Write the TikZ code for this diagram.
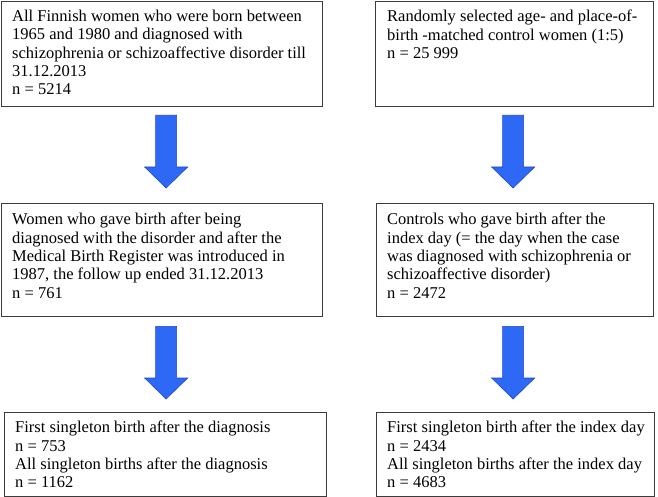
\documentclass[tikz,border=0pt]{standalone}
\usepackage{fontspec}
\setmainfont{Liberation Serif}
\usetikzlibrary{calc}

\definecolor{arrowfill}{RGB}{45,105,245}
\definecolor{arrowline}{RGB}{30,70,200}
\definecolor{boxline}{RGB}{60,60,60}

\tikzset{
  flowbox/.style={draw=boxline, line width=1.3pt, anchor=north west, inner sep=0pt},
  flowtext/.style={anchor=north west, inner sep=0pt, align=left,
    font=\fontsize{16.5}{18.3}\selectfont},
  bluearrow/.style={fill=arrowfill, draw=arrowline, line width=0.6pt,
    to path={let \p1=(\tikztostart), \p2=(\tikztotarget) in
      (\x1-10.5pt,\y1) -- (\x1+10.5pt,\y1) -- (\x1+10.5pt,\y2+21pt)
      -- (\x1+21.5pt,\y2+21pt) -- (\x1,\y2) -- (\x1-21.5pt,\y2+21pt)
      -- (\x1-10.5pt,\y2+21pt) -- cycle}}
}

\begin{document}
\begin{tikzpicture}[x=1pt, y=-1pt]
    \useasboundingbox (0,0) rectangle (658,497);

    % boxes
    \node[flowbox, minimum width=321pt, minimum height=105pt] (b1) at (1,1) {};
    \node[flowbox, minimum width=278pt, minimum height=105pt] (b2) at (375,1) {};
    \node[flowbox, minimum width=321pt, minimum height=113pt] (b3) at (1,203) {};
    \node[flowbox, minimum width=277pt, minimum height=113pt] (b4) at (376,203) {};
    \node[flowbox, minimum width=322pt, minimum height=84pt] (b5) at (4,412) {};
    \node[flowbox, minimum width=278pt, minimum height=84pt] (b6) at (376,412) {};

    % texts
    \node[flowtext] (t1) at ([xshift=11pt,yshift=-9pt]b1.north west)
        {All Finnish women who were born between\\1965 and 1980 and diagnosed with\\schizophrenia or schizoaffective disorder till\\31.12.2013\\n = 5214};
    \node[flowtext] (t2) at ([xshift=12pt,yshift=-9pt]b2.north west)
        {Randomly selected age- and place-of-\\birth -matched control women (1:5)\\n = 25 999};
    \node[flowtext] (t3) at ([xshift=11pt,yshift=-10pt]b3.north west)
        {Women who gave birth after being\\diagnosed with the disorder and after the\\Medical Birth Register was introduced in\\1987, the follow up ended 31.12.2013\\n = 761};
    \node[flowtext] (t4) at ([xshift=11pt,yshift=-10pt]b4.north west)
        {Controls who gave birth after the\\index day (= the day when the case\\was diagnosed with schizophrenia or\\schizoaffective disorder)\\n = 2472};
    \node[flowtext] (t5) at ([xshift=11pt,yshift=-9pt]b5.north west)
        {First singleton birth after the diagnosis\\n = 753\\All singleton births after the diagnosis\\n = 1162};
    \node[flowtext] (t6) at ([xshift=11pt,yshift=-9pt]b6.north west)
        {First singleton birth after the index day\\n = 2434\\All singleton births after the index day\\n = 4683};

    % arrows
    \draw[bluearrow] ([xshift=4pt,yshift=-8pt]b1.south) to ([xshift=4pt,yshift=15pt]b3.north);
    \draw[bluearrow] ([xshift=-1.5pt,yshift=-8pt]b2.south) to ([xshift=-1.5pt,yshift=15pt]b4.north);
    \draw[bluearrow] ([xshift=4pt,yshift=-9pt]b3.south) to ([xshift=4pt,yshift=13pt]b5.north);
    \draw[bluearrow] ([xshift=-2pt,yshift=-9pt]b4.south) to ([xshift=-2pt,yshift=13pt]b6.north);
\end{tikzpicture}
\end{document}
